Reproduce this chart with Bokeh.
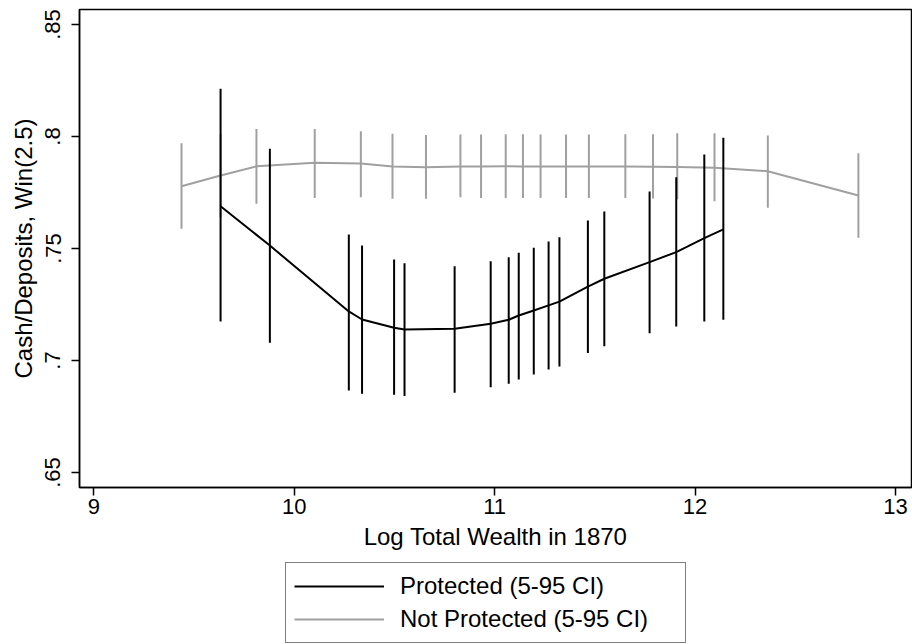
from bokeh.plotting import figure
from bokeh.layouts import column
from bokeh.models import Legend, LegendItem, Range1d, FixedTicker
from bokeh.embed import file_html
from bokeh.resources import INLINE

# Protected (black)
prot_x = [9.632, 9.878, 10.272, 10.338, 10.498, 10.550, 10.800, 10.980, 11.070, 11.120,
          11.195, 11.269, 11.323, 11.465, 11.547, 11.773, 11.906, 12.046, 12.141]
prot_y = [0.7689, 0.7513, 0.7219, 0.7183, 0.7146, 0.7138, 0.7142, 0.7164, 0.7182, 0.7201,
          0.7223, 0.7246, 0.7263, 0.7330, 0.7365, 0.7439, 0.7484, 0.7546, 0.7585]
prot_hi = [0.8213, 0.7945, 0.7562, 0.7513, 0.7451, 0.7434, 0.7421, 0.7443, 0.7461, 0.7481,
           0.7503, 0.7531, 0.7550, 0.7625, 0.7665, 0.7754, 0.7818, 0.7920, 0.7994]
prot_lo = [0.7174, 0.7079, 0.6866, 0.6851, 0.6847, 0.6841, 0.6856, 0.6881, 0.6896, 0.6915,
           0.6938, 0.6960, 0.6973, 0.7034, 0.7064, 0.7122, 0.7152, 0.7174, 0.7182]

# Not protected (gray)
np_x = [9.437, 9.632, 9.811, 10.102, 10.332, 10.490, 10.657, 10.829, 10.932, 11.055,
        11.141, 11.229, 11.356, 11.470, 11.652, 11.790, 11.911, 12.097, 12.363, 12.815]
np_y = [0.7778, 0.7826, 0.7867, 0.7883, 0.7879, 0.7866, 0.7863, 0.7866, 0.7866, 0.7867,
        0.7866, 0.7866, 0.7866, 0.7866, 0.7866, 0.7865, 0.7864, 0.7860, 0.7845, 0.7737]
np_hi = [0.7970, 0.8010, 0.8034, 0.8034, 0.8024, 0.8012, 0.8007, 0.8009, 0.8009, 0.8010,
         0.8010, 0.8009, 0.8009, 0.8009, 0.8010, 0.8010, 0.8015, 0.8015, 0.8004, 0.7925]
np_lo = [0.7588, 0.7640, 0.7700, 0.7726, 0.7729, 0.7722, 0.7722, 0.7729, 0.7725, 0.7725,
         0.7725, 0.7725, 0.7725, 0.7725, 0.7725, 0.7723, 0.7720, 0.7711, 0.7682, 0.7548]

x_ticks = [9, 10, 11, 12, 13]
y_ticks = [0.65, 0.70, 0.75, 0.80, 0.85]
y_tick_labels = [".65", ".7", ".75", ".8", ".85"]
legend_labels = ["Protected (5-95 CI)", "Not Protected (5-95 CI)"]

BLACK = "#000000"
GRAY = "#a0a0a0"
FONT = "Liberation Sans"

p = figure(width=912, height=562, output_backend="svg", toolbar_location=None,
           x_range=Range1d(8.928, 13.080), y_range=Range1d(0.6433, 0.8567),
           min_border_left=79, min_border_right=1, min_border_top=9, min_border_bottom=75)
p.background_fill_color = "white"
p.border_fill_color = "white"
p.outline_line_color = "black"
p.outline_line_width = 1.5
p.xgrid.visible = False
p.ygrid.visible = False

p.segment(x0=np_x, y0=np_lo, x1=np_x, y1=np_hi, line_color=GRAY, line_width=2)
p.line(np_x, np_y, line_color=GRAY, line_width=2)
p.segment(x0=prot_x, y0=prot_lo, x1=prot_x, y1=prot_hi, line_color=BLACK, line_width=2)
p.line(prot_x, prot_y, line_color=BLACK, line_width=2)

for ax in (p.xaxis[0], p.yaxis[0]):
    ax.axis_line_color = "black"
    ax.axis_line_width = 1.5
    ax.major_tick_line_color = "black"
    ax.major_tick_line_width = 1.5
    ax.major_tick_out = 8
    ax.major_tick_in = 0
    ax.minor_tick_line_color = None
    ax.major_label_text_font = FONT
    ax.major_label_text_font_size = "22px"
    ax.major_label_text_color = "black"
    ax.axis_label_text_font = FONT
    ax.axis_label_text_font_size = "24px"
    ax.axis_label_text_font_style = "normal"
    ax.axis_label_text_color = "black"

p.xaxis.ticker = FixedTicker(ticks=x_ticks)
p.xaxis.axis_label = "Log Total Wealth in 1870"
p.xaxis.major_label_standoff = 3
p.xaxis.axis_label_standoff = 6

p.yaxis.ticker = FixedTicker(ticks=y_ticks)
p.yaxis.major_label_overrides = {t: l for t, l in zip(y_ticks, y_tick_labels)}
p.yaxis.major_label_orientation = "vertical"
p.yaxis.axis_label = "Cash/Deposits, Win(2.5)"
p.yaxis.major_label_standoff = 11
p.yaxis.axis_label_standoff = 6

# legend holder below the plot
lg = figure(width=912, height=82, output_backend="svg", toolbar_location=None,
            x_range=Range1d(0, 1), y_range=Range1d(0, 1),
            x_axis_type=None, y_axis_type=None,
            min_border_left=0, min_border_right=0, min_border_top=0, min_border_bottom=0)
lg.outline_line_color = None
lg.xgrid.visible = False
lg.ygrid.visible = False
lg.background_fill_color = "white"
lg.border_fill_color = "white"
k_prot = lg.line(prot_x, prot_y, line_color=BLACK, line_width=2)
k_np = lg.line(np_x, np_y, line_color=GRAY, line_width=2)

legend = Legend(items=[LegendItem(label=legend_labels[0], renderers=[k_prot]),
                       LegendItem(label=legend_labels[1], renderers=[k_np])],
                location=(206, 1), orientation="vertical")
legend.label_text_font = FONT
legend.label_text_font_size = "24px"
legend.label_text_color = "black"
legend.glyph_width = 90
legend.glyph_height = 30
legend.label_height = 30
legend.label_width = 277
legend.label_standoff = 16
legend.padding = 8
legend.spacing = 3
legend.margin = 0
legend.border_line_color = "black"
legend.border_line_width = 1.5
legend.background_fill_color = "white"
legend.background_fill_alpha = 1.0
lg.add_layout(legend, "center")

layout = column(p, lg, spacing=0)
open("out.html", "w").write(file_html(layout, INLINE))
